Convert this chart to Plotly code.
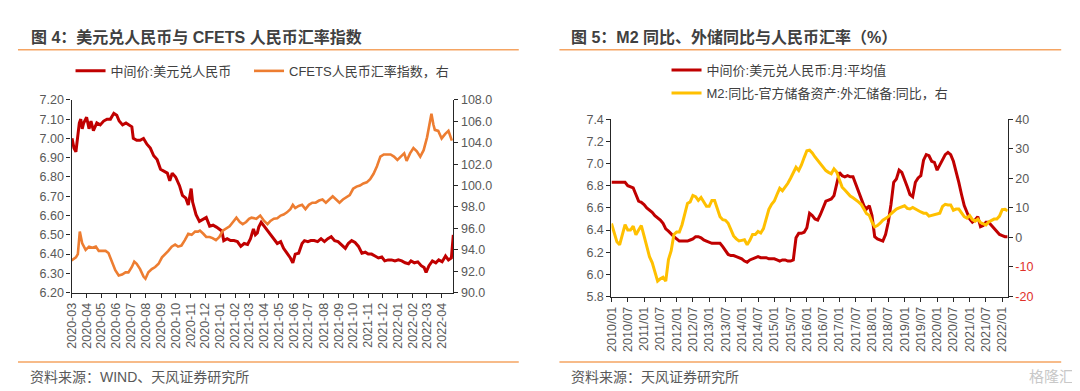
import plotly.graph_objects as go

# ---------------- Left chart data (daily USD/CNY central parity, weekly CFETS index) ----------------
USD_DATES = [
    "2020-03-02", "2020-03-06", "2020-03-10", "2020-03-13", "2020-03-17", "2020-03-20", "2020-03-23",
    "2020-03-26", "2020-04-01", "2020-04-06", "2020-04-10", "2020-04-15", "2020-04-22", "2020-04-29",
    "2020-05-06", "2020-05-13", "2020-05-20", "2020-05-27", "2020-06-02", "2020-06-07", "2020-06-14",
    "2020-06-21", "2020-06-28", "2020-07-03", "2020-07-06", "2020-07-13", "2020-07-20", "2020-07-27",
    "2020-08-03", "2020-08-10", "2020-08-17", "2020-08-24", "2020-08-31", "2020-09-07", "2020-09-14",
    "2020-09-19", "2020-09-24", "2020-10-01", "2020-10-09", "2020-10-15", "2020-10-22", "2020-10-27",
    "2020-11-02", "2020-11-05", "2020-11-12", "2020-11-19", "2020-11-26", "2020-12-03", "2020-12-10",
    "2020-12-17", "2020-12-24", "2020-12-31", "2021-01-04", "2021-01-08", "2021-01-15", "2021-01-22",
    "2021-01-29", "2021-02-05", "2021-02-12", "2021-02-19", "2021-02-26", "2021-03-04", "2021-03-10",
    "2021-03-14", "2021-03-18", "2021-03-21", "2021-03-26", "2021-04-01", "2021-04-08", "2021-04-14",
    "2021-04-21", "2021-04-28", "2021-05-05", "2021-05-11", "2021-05-18", "2021-05-25", "2021-05-30",
    "2021-06-04", "2021-06-11", "2021-06-18", "2021-06-23", "2021-06-30", "2021-07-06", "2021-07-13",
    "2021-07-20", "2021-07-27", "2021-08-03", "2021-08-10", "2021-08-17", "2021-08-24", "2021-08-31",
    "2021-09-07", "2021-09-15", "2021-09-21", "2021-09-28", "2021-10-05", "2021-10-12", "2021-10-19",
    "2021-10-26", "2021-11-01", "2021-11-08", "2021-11-15", "2021-11-22", "2021-11-29", "2021-12-05",
    "2021-12-12", "2021-12-19", "2021-12-26", "2022-01-02", "2022-01-09", "2022-01-16", "2022-01-23",
    "2022-01-28", "2022-02-04", "2022-02-11", "2022-02-18", "2022-02-24", "2022-02-28", "2022-03-06",
    "2022-03-13", "2022-03-20", "2022-03-26", "2022-04-02", "2022-04-09", "2022-04-15", "2022-04-21",
    "2022-04-23", "2022-04-25",
]
USD_VALUES = [
    7.00, 6.95, 6.93, 7.00, 7.08, 7.10, 7.05,
    7.08, 7.11, 7.05, 7.09, 7.04, 7.08, 7.07,
    7.09, 7.10, 7.10, 7.13, 7.12, 7.09, 7.07,
    7.08, 7.07, 7.06, 7.00, 6.99, 6.99, 7.00,
    6.97, 6.95, 6.91, 6.89, 6.84, 6.83, 6.82,
    6.78, 6.82, 6.80, 6.755, 6.705, 6.69, 6.655,
    6.74, 6.67, 6.605, 6.57, 6.58, 6.59, 6.545,
    6.55, 6.54, 6.53, 6.52, 6.47, 6.48, 6.47,
    6.47, 6.465, 6.44, 6.455, 6.45, 6.48, 6.53,
    6.50, 6.51, 6.54, 6.565, 6.545, 6.52, 6.50,
    6.48, 6.455, 6.465, 6.43, 6.405, 6.38, 6.355,
    6.40, 6.405, 6.455, 6.47, 6.465, 6.47, 6.47,
    6.465, 6.48, 6.465, 6.48, 6.49, 6.47, 6.465,
    6.45, 6.43, 6.455, 6.47, 6.46, 6.44, 6.405,
    6.41, 6.40, 6.40, 6.39, 6.38, 6.385, 6.365,
    6.37, 6.37, 6.365, 6.37, 6.365, 6.355, 6.35,
    6.365, 6.355, 6.36, 6.34, 6.33, 6.305, 6.34,
    6.365, 6.355, 6.37, 6.36, 6.39, 6.37, 6.38,
    6.43, 6.50,
]
CFETS_DATES = [
    "2020-03-01", "2020-03-10", "2020-03-14", "2020-03-18", "2020-03-23", "2020-03-30", "2020-04-06",
    "2020-04-13", "2020-04-20", "2020-04-26", "2020-05-03", "2020-05-10", "2020-05-16", "2020-05-23",
    "2020-05-30", "2020-06-06", "2020-06-13", "2020-06-20", "2020-06-26", "2020-07-03", "2020-07-08",
    "2020-07-13", "2020-07-20", "2020-07-27", "2020-07-31", "2020-08-06", "2020-08-13", "2020-08-20",
    "2020-08-27", "2020-09-03", "2020-09-10", "2020-09-16", "2020-09-23", "2020-09-30", "2020-10-06",
    "2020-10-13", "2020-10-20", "2020-10-27", "2020-11-03", "2020-11-10", "2020-11-16", "2020-11-20",
    "2020-11-27", "2020-12-03", "2020-12-10", "2020-12-16", "2020-12-23", "2020-12-30", "2021-01-06",
    "2021-01-13", "2021-01-20", "2021-01-27", "2021-02-03", "2021-02-10", "2021-02-16", "2021-02-23",
    "2021-03-01", "2021-03-06", "2021-03-16", "2021-03-24", "2021-04-01", "2021-04-08", "2021-04-14",
    "2021-04-21", "2021-04-28", "2021-05-05", "2021-05-11", "2021-05-18", "2021-05-25", "2021-05-30",
    "2021-06-04", "2021-06-11", "2021-06-18", "2021-06-25", "2021-07-02", "2021-07-09", "2021-07-16",
    "2021-07-23", "2021-07-30", "2021-08-06", "2021-08-13", "2021-08-20", "2021-08-27", "2021-09-03",
    "2021-09-10", "2021-09-17", "2021-09-24", "2021-10-01", "2021-10-08", "2021-10-15", "2021-10-22",
    "2021-10-29", "2021-11-05", "2021-11-12", "2021-11-19", "2021-11-26", "2021-12-03", "2021-12-10",
    "2021-12-17", "2021-12-24", "2021-12-31", "2022-01-07", "2022-01-14", "2022-01-19", "2022-01-26",
    "2022-02-02", "2022-02-09", "2022-02-16", "2022-02-23", "2022-03-02", "2022-03-07", "2022-03-11",
    "2022-03-15", "2022-03-18", "2022-03-25", "2022-04-01", "2022-04-08", "2022-04-15", "2022-04-22",
]
CFETS_VALUES = [
    93.0, 93.3, 93.6, 95.7, 94.6, 94.0, 94.3,
    94.2, 94.3, 93.9, 93.9, 93.9, 93.7, 92.8,
    92.1, 91.6, 91.7, 91.9, 91.9, 92.4, 92.9,
    92.7, 92.2, 91.5, 91.3, 91.9, 92.2, 92.4,
    92.7, 93.3, 93.6, 93.9, 94.3, 94.5, 94.3,
    94.4, 94.9, 95.5, 95.4, 95.7, 95.7, 95.8,
    95.5, 95.2, 95.2, 95.1, 94.9, 95.2, 95.8,
    96.0, 96.2, 96.6, 97.0, 96.6, 96.4, 96.6,
    96.9, 97.0, 96.9, 97.2, 96.7, 96.4, 96.7,
    96.9, 96.95, 97.2, 97.3, 97.5, 97.8, 98.2,
    97.9, 98.1, 98.2, 97.8, 98.2, 98.4, 98.4,
    98.6, 98.7, 98.4, 98.7, 99.0, 98.7, 98.4,
    98.7, 98.9, 99.1, 99.7, 99.9, 100.0, 100.2,
    100.3, 100.6, 101.1, 101.8, 102.7, 102.9, 102.9,
    102.9, 102.7, 102.4, 102.7, 103.0, 102.3, 103.0,
    103.5, 103.2, 102.7, 103.3, 104.5, 105.7, 106.7,
    105.7, 105.2, 105.1, 104.4, 104.8, 105.1, 104.2,
]

# ---------------- Right chart data (monthly) ----------------
MONTHS = [f"{y}/{m:02d}" for y in range(2010, 2023) for m in range(1, 13)][:147]
USD_MONTHLY = [
    6.83, 6.83, 6.83, 6.83, 6.83, 6.83, 6.80, 6.79, 6.78, 6.72, 6.66, 6.65,
    6.63, 6.60, 6.58, 6.56, 6.53, 6.51, 6.49, 6.46, 6.41, 6.39, 6.36, 6.34,
    6.32, 6.30, 6.30, 6.30, 6.30, 6.31, 6.32, 6.34, 6.34, 6.33, 6.31, 6.30,
    6.29, 6.28, 6.28, 6.28, 6.28, 6.25, 6.21, 6.18, 6.17, 6.17, 6.16, 6.15,
    6.14, 6.12, 6.11, 6.13, 6.14, 6.15, 6.16, 6.15, 6.15, 6.15, 6.14, 6.14,
    6.14, 6.13, 6.12, 6.13, 6.13, 6.12, 6.12, 6.13, 6.33, 6.37, 6.37, 6.38,
    6.42, 6.55, 6.53, 6.50, 6.49, 6.54, 6.60, 6.66, 6.67, 6.68, 6.71, 6.83,
    6.92, 6.89, 6.88, 6.89, 6.88, 6.88, 6.81, 6.76, 6.69, 6.62, 6.59, 6.62,
    6.53, 6.34, 6.32, 6.31, 6.30, 6.36, 6.47, 6.63, 6.83, 6.86, 6.94, 6.92,
    6.86, 6.79, 6.72, 6.70, 6.83, 6.87, 6.89, 7.03, 7.08, 7.07, 7.02, 7.01,
    6.94, 6.99, 7.03, 7.08, 7.10, 7.08, 7.02, 6.93, 6.83, 6.72, 6.62, 6.56,
    6.50, 6.47, 6.49, 6.52, 6.43, 6.44, 6.47, 6.47, 6.44, 6.41, 6.38, 6.36,
    6.35, 6.34, 6.34,
]
M2_MINUS_FX = [
    4.7, 1.5, -1.5, -2.5, 1.0, 4.3, 2.5, 2.5, 3.8, 0.9, 2.5, 4.0,
    0.5, -3.0, -6.5, -8.5, -12.0, -14.8, -14.0, -13.5, -14.8, -7.5, -4.5, 1.0,
    1.8, 1.8, 4.3, 8.0, 11.5, 12.0, 14.2, 13.8, 12.5, 13.5, 12.0, 10.5,
    10.5, 12.5, 12.5, 10.0, 7.0, 6.0, 5.8, 4.8, 2.5, 0.5, -0.5, -1.2,
    -1.0, -0.8, -2.5, -1.0, 1.0, 1.0, 2.0, 1.5, 3.0, 6.5, 9.5, 11.2,
    12.3, 14.5, 16.6, 15.8, 17.0, 18.3, 20.0, 22.0, 23.7, 22.6, 24.5, 27.0,
    29.3, 29.5, 28.6, 27.2, 26.0, 25.0, 24.0, 22.6, 22.0, 21.5, 23.2, 22.1,
    19.5, 17.0, 16.0, 15.0, 14.0, 13.4, 12.8, 12.0, 11.2, 9.6, 8.0, 7.5,
    5.2, 3.6, 4.0, 4.8, 5.8, 6.4, 7.0, 8.0, 8.8, 9.6, 10.0, 10.3,
    10.7, 9.8, 9.6, 10.1, 9.5, 9.0, 8.6, 8.2, 8.2, 7.2, 7.5, 7.8,
    8.0, 8.2, 10.5, 11.2, 11.0, 11.0, 9.2, 9.6, 9.6, 8.2, 7.0, 6.5,
    7.4, 6.0, 5.5, 6.2, 5.0, 4.6, 4.2, 5.2, 5.6, 6.2, 6.2, 7.2,
    9.4, 9.5, 9.0,
]
RIGHT_TICKS = [-20, -10, 0, 10, 20, 30, 40]

# ---------------- Styling ----------------
W, H = 1080, 391
RED = "#C00000"
ORANGE = "#ED7D31"
GOLD = "#FFC000"
RULE = "#F5A462"
TXT = "#404040"
TICK_TXT = "#595959"
NUM_FONT = "Liberation Sans, Arial, sans-serif"
CJK_FONT = "Liberation Sans, Noto Sans CJK SC, sans-serif"


def px(x):
    return x / W


def py(y):
    return 1 - y / H


axis_common = dict(
    showline=True, linecolor="#262626", linewidth=1.3,
    ticks="outside", ticklen=4, tickwidth=1.2, tickcolor="#262626",
    showgrid=False, zeroline=False,
    tickfont=dict(family=NUM_FONT, size=12.5, color=TICK_TXT),
)

fig = go.Figure()

fig.add_trace(go.Scatter(
    x=USD_DATES, y=USD_VALUES, mode="lines", name="中间价:美元兑人民币",
    line=dict(color=RED, width=3), xaxis="x", yaxis="y", legend="legend",
))
fig.add_trace(go.Scatter(
    x=CFETS_DATES, y=CFETS_VALUES, mode="lines", name="CFETS人民币汇率指数，右",
    line=dict(color=ORANGE, width=2.6), xaxis="x", yaxis="y2", legend="legend2",
))
fig.add_trace(go.Scatter(
    x=MONTHS, y=USD_MONTHLY, mode="lines", name="中间价:美元兑人民币:月:平均值",
    line=dict(color=RED, width=3), xaxis="x2", yaxis="y3", legend="legend3",
))
fig.add_trace(go.Scatter(
    x=MONTHS, y=M2_MINUS_FX, mode="lines", name="M2:同比-官方储备资产:外汇储备:同比，右",
    line=dict(color=GOLD, width=3), xaxis="x2", yaxis="y4", legend="legend4",
))

right_ticktext = [
    f"<span style='color:#E0302A'>{v}</span>" if v < 0 else str(v) for v in RIGHT_TICKS
]

leg_common = dict(
    orientation="h", xanchor="left", yanchor="middle", bgcolor="rgba(0,0,0,0)",
    borderwidth=0, font=dict(family=CJK_FONT, size=13, color=TXT),
)

fig.update_layout(
    width=W, height=H,
    margin=dict(l=0, r=0, t=0, b=0),
    paper_bgcolor="white", plot_bgcolor="white",
    showlegend=True,
    xaxis=dict(
        axis_common, domain=[px(57), px(442)], anchor="y", type="date",
        range=["2020-03-01", "2022-04-25"], dtick="M1", tick0="2020-03-01",
        tickformat="%Y-%m", tickangle=-90,
    ),
    yaxis=dict(
        axis_common, domain=[py(288), py(88)], anchor="x", range=[6.2, 7.2],
        dtick=0.1, tickformat=".2f",
    ),
    yaxis2=dict(
        axis_common, overlaying="y", side="right", anchor="x", range=[90, 108],
        dtick=2, tickformat=".1f",
    ),
    xaxis2=dict(
        axis_common, domain=[px(601.5), px(1001)], anchor="y3", type="category",
        range=[0, len(MONTHS) - 1], tickmode="array", tickvals=MONTHS[::6],
        tickangle=-90,
    ),
    yaxis3=dict(
        axis_common, domain=[py(292), py(108)], anchor="x2", range=[5.8, 7.4],
        dtick=0.2, tickformat=".1f",
    ),
    yaxis4=dict(
        axis_common, overlaying="y3", side="right", anchor="x2", range=[-20, 40],
        tickmode="array", tickvals=RIGHT_TICKS, ticktext=right_ticktext,
    ),
    legend=dict(leg_common, x=px(56), y=py(58)),
    legend2=dict(leg_common, x=px(236), y=py(58)),
    legend3=dict(leg_common, x=px(657), y=py(57)),
    legend4=dict(leg_common, x=px(657), y=py(81)),
)

# Title rules (top and bottom orange lines)
for x0, x1 in [(3, 508), (549, 1055)]:
    for yy in (36, 360):
        fig.add_shape(type="line", xref="paper", yref="paper",
                      x0=px(x0), x1=px(x1), y0=py(yy), y1=py(yy),
                      line=dict(color=RULE, width=1.5))

# Titles
fig.add_annotation(text="<b>图 4：美元兑人民币与 CFETS 人民币汇率指数</b>", xref="paper", yref="paper",
                   x=px(14), y=py(23), xanchor="left", yanchor="middle", showarrow=False,
                   font=dict(family=CJK_FONT, size=16, color=TXT))
fig.add_annotation(text="<b>图 5：M2 同比、外储同比与人民币汇率（%）</b>", xref="paper", yref="paper",
                   x=px(559), y=py(23), xanchor="left", yanchor="middle", showarrow=False,
                   font=dict(family=CJK_FONT, size=16, color=TXT))
# Sources
fig.add_annotation(text="资料来源：WIND、天风证券研究所", xref="paper", yref="paper",
                   x=px(13), y=py(375), xanchor="left", yanchor="middle", showarrow=False,
                   font=dict(family=CJK_FONT, size=14, color=TICK_TXT))
fig.add_annotation(text="资料来源：天风证券研究所", xref="paper", yref="paper",
                   x=px(559), y=py(375), xanchor="left", yanchor="middle", showarrow=False,
                   font=dict(family=CJK_FONT, size=14, color=TICK_TXT))
# Watermark
fig.add_annotation(text="格隆汇", xref="paper", yref="paper",
                   x=px(1070), y=py(375), xanchor="right", yanchor="middle", showarrow=False,
                   font=dict(family=CJK_FONT, size=15, color="#C8C8C8"))

fig.write_html("out.html")
